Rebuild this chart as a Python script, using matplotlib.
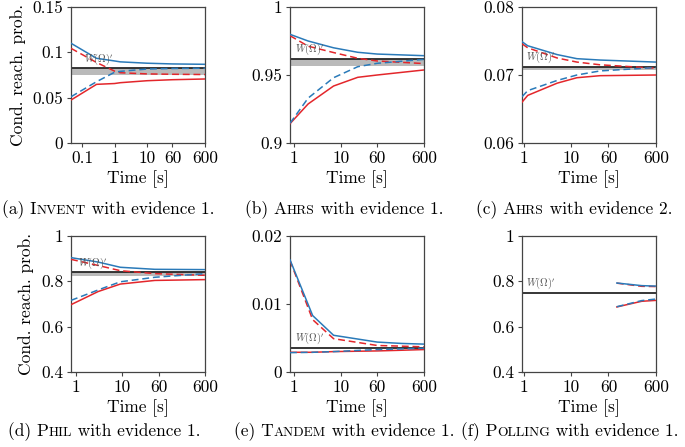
import matplotlib
matplotlib.use("Agg")
import matplotlib.pyplot as plt
from matplotlib.ticker import FixedLocator, FixedFormatter, NullLocator

plt.rcParams['font.family'] = ['cmr10', 'DejaVu Serif']
plt.rcParams['mathtext.fontset'] = 'cm'
plt.rcParams['axes.formatter.use_mathtext'] = True

BLUE = '#2a7ab9'
RED = '#e3262b'

# ---------------- data ----------------
# (a) Invent, evidence 1
xa = [0.046, 0.28, 1, 1.5, 10, 60, 600]
a_blue_solid = [0.110, 0.0934, 0.0905, 0.0895, 0.0880, 0.0872, 0.0868]
a_red_dashed = [0.1044, 0.0888, 0.0793, 0.0775, 0.0762, 0.0758, 0.0755]
a_blue_dashed = [0.051, 0.0676, 0.0780, 0.0790, 0.0816, 0.0822, 0.0825]
a_red_solid = [0.0474, 0.0647, 0.0656, 0.0665, 0.0687, 0.0698, 0.0706]
a_w = 0.0824
a_band = (0.0752, 0.0824)

# (b) Ahrs, evidence 1
xb = [0.82, 2, 7, 23, 60, 600]
b_blue_solid = [0.9799, 0.9750, 0.9700, 0.9667, 0.9654, 0.9642]
b_red_dashed = [0.9789, 0.9712, 0.9665, 0.9623, 0.9603, 0.9584]
b_blue_dashed = [0.9145, 0.9330, 0.9480, 0.9561, 0.9586, 0.9615]
b_red_solid = [0.9142, 0.9287, 0.9419, 0.9483, 0.9500, 0.9537]
b_w = 0.9621
b_band = (0.9566, 0.9621)

# (c) Ahrs, evidence 2
xc = [0.91, 1.2, 5, 13, 40, 600]
c_blue_solid = [0.0749, 0.0743, 0.0730, 0.0724, 0.0722, 0.0719]
c_red_dashed = [0.0746, 0.0740, 0.0725, 0.0719, 0.0715, 0.0710]
c_blue_dashed = [0.0668, 0.0677, 0.0692, 0.0700, 0.0706, 0.0711]
c_red_solid = [0.0660, 0.0670, 0.0688, 0.0696, 0.0699, 0.0700]
c_w = 0.0712
c_band = (0.0707, 0.0712)

# (d) Phil, evidence 1
xd = [0.78, 3, 9, 50, 600]
d_blue_solid = [0.9046, 0.8850, 0.8620, 0.8530, 0.8517]
d_red_dashed = [0.8970, 0.8700, 0.8470, 0.8340, 0.8266]
d_blue_dashed = [0.7160, 0.7620, 0.7980, 0.8180, 0.8340]
d_red_solid = [0.6970, 0.7550, 0.7880, 0.8040, 0.8076]
d_w = 0.8395
d_band = (0.8255, 0.8395)

# (e) Tandem, evidence 1
xe = [0.82, 2.5, 7, 60, 200, 600]
e_blue_solid = [0.0165, 0.0083, 0.0054, 0.0044, 0.0042, 0.0041]
e_red_dashed = [0.0164, 0.0077, 0.0049, 0.0039, 0.0038, 0.0037]
e_blue_dashed = [0.00285, 0.0029, 0.0030, 0.0033, 0.0034, 0.0035]
e_red_solid = [0.0029, 0.0029, 0.0030, 0.0031, 0.0032, 0.0033]
e_w = 0.00353
e_band = None

# (f) Polling, evidence 1
xf = [90, 300, 600]
f_blue_solid = [0.7926, 0.7810, 0.7790]
f_red_dashed = [0.7920, 0.7780, 0.7770]
f_blue_dashed = [0.6880, 0.7150, 0.7220]
f_red_solid = [0.6870, 0.7120, 0.7160]
f_w = 0.7485
f_band = None

xticks_a = [0.1, 1, 10, 60, 600]
xticks_std = [1, 10, 60, 600]
xlabels_a = ['0.1', '1', '10', '60', '600']
xlabels_std = ['1', '10', '60', '600']

panels = [
    dict(x=xa, bs=a_blue_solid, rd=a_red_dashed, bd=a_blue_dashed, rs=a_red_solid,
         w=a_w, band=a_band, xlim=(0.046, 600), ylim=(0, 0.15),
         yt=[0, 0.05, 0.1, 0.15], ytl=['0', '0.05', '0.1', '0.15'],
         xt=xticks_a, xtl=xlabels_a, wx=0.115, ylabel=True),
    dict(x=xb, bs=b_blue_solid, rd=b_red_dashed, bd=b_blue_dashed, rs=b_red_solid,
         w=b_w, band=b_band, xlim=(0.82, 600), ylim=(0.9, 1.0),
         yt=[0.9, 0.95, 1.0], ytl=['0.9', '0.95', '1'],
         xt=xticks_std, xtl=xlabels_std, wx=1.05, ylabel=False),
    dict(x=xc, bs=c_blue_solid, rd=c_red_dashed, bd=c_blue_dashed, rs=c_red_solid,
         w=c_w, band=c_band, xlim=(0.91, 600), ylim=(0.06, 0.08),
         yt=[0.06, 0.07, 0.08], ytl=['0.06', '0.07', '0.08'],
         xt=xticks_std, xtl=xlabels_std, wx=1.1, ylabel=False),
    dict(x=xd, bs=d_blue_solid, rd=d_red_dashed, bd=d_blue_dashed, rs=d_red_solid,
         w=d_w, band=d_band, xlim=(0.78, 600), ylim=(0.4, 1.0),
         yt=[0.4, 0.6, 0.8, 1.0], ytl=['0.4', '0.6', '0.8', '1'],
         xt=xticks_std, xtl=xlabels_std, wx=1.1, ylabel=True),
    dict(x=xe, bs=e_blue_solid, rd=e_red_dashed, bd=e_blue_dashed, rs=e_red_solid,
         w=e_w, band=e_band, xlim=(0.82, 600), ylim=(0, 0.02),
         yt=[0, 0.01, 0.02], ytl=['0', '0.01', '0.02'],
         xt=xticks_std, xtl=xlabels_std, wx=1.05, ylabel=False),
    dict(x=xf, bs=f_blue_solid, rd=f_red_dashed, bd=f_blue_dashed, rs=f_red_solid,
         w=f_w, band=f_band, xlim=(0.91, 600), ylim=(0.4, 1.0),
         yt=[0.4, 0.6, 0.8, 1.0], ytl=['0.4', '0.6', '0.8', '1'],
         xt=xticks_std, xtl=xlabels_std, wx=1.1, ylabel=False),
]

captions = [
    [('(a) I', 1.0), ('NVENT', 0.78), (' with evidence 1.', 1.0)],
    [('(b) A', 1.0), ('HRS', 0.78), (' with evidence 1.', 1.0)],
    [('(c) A', 1.0), ('HRS', 0.78), (' with evidence 2.', 1.0)],
    [('(d) P', 1.0), ('HIL', 0.78), (' with evidence 1.', 1.0)],
    [('(e) T', 1.0), ('ANDEM', 0.78), (' with evidence 1.', 1.0)],
    [('(f) P', 1.0), ('OLLING', 0.78), (' with evidence 1.', 1.0)],
]
caption_centers_px = [108, 344, 574, 104, 344, 570]
caption_baseline_px = [214, 214, 214, 436, 436, 436]

W, H = 685, 447
fig = plt.figure(figsize=(W / 100, H / 100), dpi=100)

lefts_px = [71, 290, 522]
tops_px = [7, 236]
aw_px, ah_px = 134, 136

TICK = 12.5
for i, p in enumerate(panels):
    r, c = divmod(i, 3)
    l = lefts_px[c] / W
    b = 1 - (tops_px[r] + ah_px) / H
    ax = fig.add_axes([l, b, aw_px / W, ah_px / H])
    ax.set_xscale('log')
    if p['band'] is not None:
        ax.axhspan(p['band'][0], p['band'][1], color='#bababa', lw=0, zorder=1)
    ax.axhline(p['w'], color='#262626', lw=1.3, zorder=2)
    ax.plot(p['x'], p['rs'], color=RED, lw=1.1, zorder=3)
    ax.plot(p['x'], p['rd'], color=RED, lw=1.1, dashes=(4.5, 2.5), zorder=3)
    ax.plot(p['x'], p['bs'], color=BLUE, lw=1.1, zorder=4)
    ax.plot(p['x'], p['bd'], color=BLUE, lw=1.1, dashes=(4.5, 2.5), zorder=4)
    ax.text(p['wx'], p['w'] + (p['ylim'][1] - p['ylim'][0]) * 0.012,
            r'$W(\Omega)^{\prime}$', color='#555555', fontsize=7.5,
            va='bottom', ha='left', zorder=5)
    ax.set_xlim(*p['xlim'])
    ax.set_ylim(*p['ylim'])
    ax.xaxis.set_major_locator(FixedLocator(p['xt']))
    ax.xaxis.set_major_formatter(FixedFormatter(p['xtl']))
    ax.xaxis.set_minor_locator(NullLocator())
    ax.yaxis.set_major_locator(FixedLocator(p['yt']))
    ax.yaxis.set_major_formatter(FixedFormatter(p['ytl']))
    ax.tick_params(direction='out', length=3, width=0.8, color='#444444',
                   labelsize=TICK, pad=2.5)
    for s in ax.spines.values():
        s.set_color('#444444')
        s.set_linewidth(0.9)
    ax.set_xlabel('Time [s]', fontsize=TICK, labelpad=3)
    if p['ylabel']:
        ax.set_ylabel('Cond. reach. prob.', fontsize=TICK, labelpad=5)

# captions with small caps emulation
CAP = 12.5
renderer = fig.canvas.get_renderer()
for parts, cx, by in zip(captions, caption_centers_px, caption_baseline_px):
    texts = []
    widths = []
    for s, scale in parts:
        t = fig.text(0, 1 - by / H, s, fontsize=CAP * scale, va='baseline', ha='left')
        bb = t.get_window_extent(renderer=renderer)
        texts.append(t)
        widths.append(bb.width)
    total = sum(widths)
    x0 = cx - total / 2
    for t, wdt in zip(texts, widths):
        t.set_x(x0 / W)
        x0 += wdt

fig.savefig('out.png', dpi=100)
